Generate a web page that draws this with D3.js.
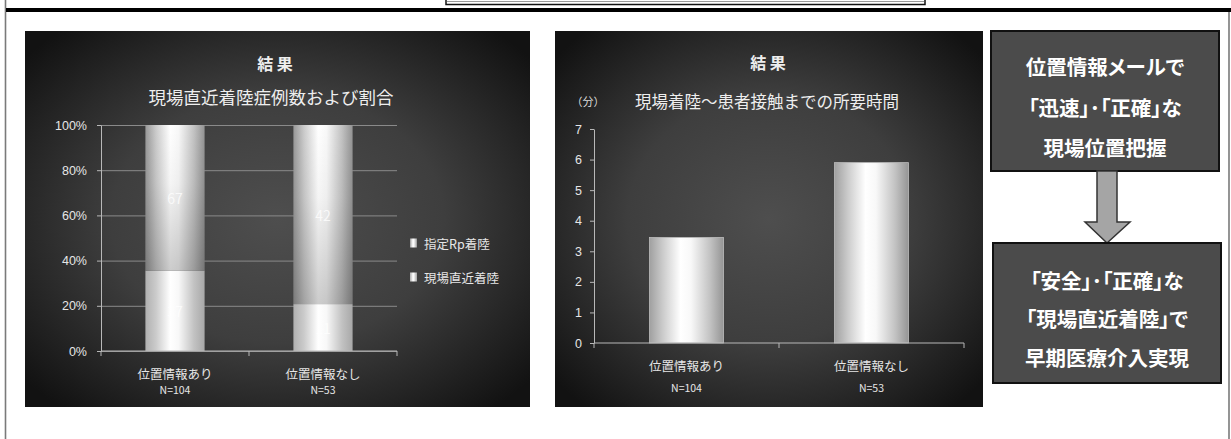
<!DOCTYPE html>
<html lang="ja">
<head>
<meta charset="utf-8">
<script src="https://cdn.jsdelivr.net/npm/d3@7"></script>
<style>
  html, body { margin: 0; padding: 0; background: #fff; }
  svg { display: block; font-family: "Noto Sans CJK JP", "Noto Sans", sans-serif; }
  .flow text { font-feature-settings: "palt"; }
</style>
</head>
<body>
<svg id="slide" width="1231" height="439"></svg>
<script>
// ---- data ----
const categories = ["位置情報あり", "位置情報なし"];
const sampleSizes = ["N=104", "N=53"];
const seriesNames = ["指定Rp着陸", "現場直近着陸"];
const rpLanding = [67, 42];      // 指定Rp着陸 (cases)
const nearLanding = [37, 11];    // 現場直近着陸 (cases)
const pctTicks = [0, 0.2, 0.4, 0.6, 0.8, 1.0];
const contactMinutes = [3.45, 5.9];  // 現場着陸～患者接触 (分)
const minuteTicks = [0, 1, 2, 3, 4, 5, 6, 7];
const flowTop = ["位置情報メールで", "「迅速」･「正確」な", "現場位置把握"];
const flowBottom = ["「安全」･「正確」な", "「現場直近着陸」で", "早期医療介入実現"];

const svg = d3.select("#slide");
const defs = svg.append("defs");

// panel background: dark edges, lighter centre
const bg = defs.append("radialGradient").attr("id", "panelBg")
  .attr("cx", "50%").attr("cy", "50%").attr("r", "66%");
bg.append("stop").attr("offset", "0%").attr("stop-color", "#4e4e4e");
bg.append("stop").attr("offset", "50%").attr("stop-color", "#3e3e3e");
bg.append("stop").attr("offset", "100%").attr("stop-color", "#121212");

// cylindrical shading of the bars
function barGradient(id, edgeL, edgeR) {
  const g = defs.append("linearGradient").attr("id", id)
    .attr("x1", "0%").attr("x2", "100%").attr("y1", "0%").attr("y2", "0%");
  [[0, edgeL], [0.18, "#cbcbcb"], [0.42, "#ffffff"], [0.56, "#f8f8f8"], [0.82, "#c2c2c2"], [1, edgeR]]
    .forEach(([o, c]) => g.append("stop").attr("offset", o).attr("stop-color", c));
}
barGradient("barTop", "#989898", "#939393");
barGradient("barBottom", "#b0b0b0", "#a8a8a8");
barGradient("barPlain", "#a0a0a0", "#959595");
const shade = defs.append("linearGradient").attr("id", "shadeDown")
  .attr("x1", "0%").attr("x2", "0%").attr("y1", "0%").attr("y2", "100%");
shade.append("stop").attr("offset", "0%").attr("stop-color", "#000").attr("stop-opacity", 0);
shade.append("stop").attr("offset", "40%").attr("stop-color", "#000").attr("stop-opacity", 0.04);
shade.append("stop").attr("offset", "100%").attr("stop-color", "#000").attr("stop-opacity", 0.2);

// ---- page frame ----
svg.append("line").attr("x1", 5.5).attr("x2", 5.5).attr("y1", 0).attr("y2", 439)
  .attr("stroke", "#7a7a7a").attr("stroke-width", 1.6);
svg.append("line").attr("x1", 1229).attr("x2", 1229).attr("y1", 10).attr("y2", 439)
  .attr("stroke", "#7a7a7a").attr("stroke-width", 1.6);
svg.append("rect").attr("x", 6).attr("y", 8).attr("width", 1225).attr("height", 4).attr("fill", "#000");
svg.append("rect").attr("x", 446).attr("y", -4).attr("width", 479).attr("height", 8.5)
  .attr("fill", "#fff").attr("stroke", "#111").attr("stroke-width", 1.5);
svg.append("line").attr("x1", 447).attr("x2", 924).attr("y1", 1.5).attr("y2", 1.5)
  .attr("stroke", "#999").attr("stroke-width", 1);

const axisColor = "#b8b8b8";
const textColor = "#e6e6e6";

function styleAxis(g) {
  g.selectAll(".domain").attr("stroke", axisColor).attr("stroke-width", 1);
  g.selectAll(".tick line").attr("stroke", axisColor);
  g.selectAll(".tick text").attr("fill", textColor).attr("font-size", 12.5);
}

// ================= left chart: 100% stacked =================
(function () {
  const panel = { x: 25, y: 31, w: 505, h: 376 };
  const g = svg.append("g");
  g.append("rect").attr("x", panel.x).attr("y", panel.y).attr("width", panel.w).attr("height", panel.h)
    .attr("fill", "url(#panelBg)");

  const x = d3.scaleBand().domain(categories).range([101, 397]).paddingInner(0.6).paddingOuter(0.3);
  const y = d3.scaleLinear().domain([0, 1]).range([351, 125]);

  g.append("text").attr("x", 275).attr("y", 63).attr("text-anchor", "middle")
    .attr("dominant-baseline", "central").attr("fill", "#eee").attr("font-size", 16)
    .attr("font-weight", 700).text("結 果");
  g.append("text").attr("x", 271).attr("y", 96).attr("text-anchor", "middle")
    .attr("dominant-baseline", "central").attr("fill", "#eee").attr("font-size", 17.5)
    .text("現場直近着陸症例数および割合");

  // gridlines
  g.append("g").attr("transform", `translate(${x.range()[0]},0)`)
    .call(d3.axisLeft(y).tickValues(pctTicks).tickSize(-(x.range()[1] - x.range()[0])).tickFormat(""))
    .call(a => a.select(".domain").remove())
    .call(a => a.selectAll(".tick line").attr("stroke", "#8a8a8a").attr("stroke-width", 1));

  // y axis
  const ya = g.append("g").attr("transform", `translate(${x.range()[0]},0)`)
    .call(d3.axisLeft(y).tickValues(pctTicks).tickSize(4).tickSizeOuter(0).tickPadding(10)
      .tickFormat(d3.format(".0%")));
  styleAxis(ya);

  // stacked bars
  const rows = categories.map((c, i) => ({ cat: c, rp: rpLanding[i], near: nearLanding[i] }));
  const stack = d3.stack().keys(["near", "rp"]).offset(d3.stackOffsetExpand);
  const layers = stack(rows);
  const fills = { near: "url(#barBottom)", rp: "url(#barTop)" };

  layers.forEach(layer => {
    const lg = g.append("g");
    lg.selectAll("rect.bar").data(layer).join("rect").attr("class", "bar")
      .attr("x", d => x(d.data.cat)).attr("width", x.bandwidth())
      .attr("y", d => y(d[1])).attr("height", d => y(d[0]) - y(d[1]))
      .attr("fill", fills[layer.key]);
    if (layer.key === "rp") {
      lg.selectAll("rect.shade").data(layer).join("rect").attr("class", "shade")
        .attr("x", d => x(d.data.cat)).attr("width", x.bandwidth())
        .attr("y", d => y(d[1])).attr("height", d => y(d[0]) - y(d[1]))
        .attr("fill", "url(#shadeDown)");
    }
    lg.selectAll("text").data(layer).join("text")
      .attr("x", d => x(d.data.cat) + x.bandwidth() / 2)
      .attr("y", d => y((d[0] + d[1]) / 2))
      .attr("text-anchor", "middle").attr("dominant-baseline", "central")
      .attr("font-size", 14).attr("fill", "#fff").attr("opacity", 0.75)
      .text(d => d.data[layer.key]);
  });

  // x axis with ticks on category boundaries
  const xa = g.append("g").attr("transform", `translate(0,${y(0)})`);
  xa.append("line").attr("x1", x.range()[0]).attr("x2", x.range()[1])
    .attr("stroke", axisColor);
  const bounds = d3.range(categories.length + 1).map(i => x.range()[0] + i * x.step());
  xa.selectAll("line.tk").data(bounds).join("line").attr("class", "tk")
    .attr("x1", d => d).attr("x2", d => d).attr("y1", 0).attr("y2", 5).attr("stroke", axisColor);
  categories.forEach((c, i) => {
    const cx = x(c) + x.bandwidth() / 2;
    g.append("text").attr("x", cx).attr("y", 373).attr("text-anchor", "middle")
      .attr("dominant-baseline", "central").attr("fill", textColor).attr("font-size", 12.5).text(c);
    g.append("text").attr("x", cx).attr("y", 389).attr("text-anchor", "middle")
      .attr("dominant-baseline", "central").attr("fill", textColor).attr("font-size", 10.5).text(sampleSizes[i]);
  });

  // legend
  const legFill = ["url(#barTop)", "url(#barBottom)"];
  seriesNames.forEach((n, i) => {
    const ly = 243 + i * 34;
    g.append("rect").attr("x", 410).attr("y", ly - 4.5).attr("width", 7).attr("height", 9)
      .attr("fill", legFill[i]);
    g.append("text").attr("x", 424).attr("y", ly).attr("dominant-baseline", "central")
      .attr("fill", textColor).attr("font-size", 12.5).text(n);
  });
})();

// ================= right chart: minutes =================
(function () {
  const panel = { x: 555, y: 31, w: 428, h: 376 };
  const g = svg.append("g");
  g.append("rect").attr("x", panel.x).attr("y", panel.y).attr("width", panel.w).attr("height", panel.h)
    .attr("fill", "url(#panelBg)");

  const x = d3.scaleBand().domain(categories).range([594, 964]).paddingInner(0.6).paddingOuter(0.3);
  const y = d3.scaleLinear().domain([0, 7]).range([343, 129]);

  g.append("text").attr("x", 768).attr("y", 62).attr("text-anchor", "middle")
    .attr("dominant-baseline", "central").attr("fill", "#eee").attr("font-size", 16)
    .attr("font-weight", 700).text("結 果");
  g.append("text").attr("x", 588).attr("y", 101).attr("text-anchor", "middle")
    .attr("dominant-baseline", "central").attr("fill", "#ddd").attr("font-size", 11).text("（分）");
  g.append("text").attr("x", 767).attr("y", 101).attr("text-anchor", "middle")
    .attr("dominant-baseline", "central").attr("fill", "#eee").attr("font-size", 16.5)
    .text("現場着陸～患者接触までの所要時間");

  const ya = g.append("g").attr("transform", `translate(${x.range()[0]},0)`)
    .call(d3.axisLeft(y).tickValues(minuteTicks).tickSize(4).tickSizeOuter(0).tickPadding(8)
      .tickFormat(d3.format("d")));
  styleAxis(ya);

  g.selectAll("rect.bar").data(categories).join("rect").attr("class", "bar")
    .attr("x", d => x(d)).attr("width", x.bandwidth())
    .attr("y", (d, i) => y(contactMinutes[i]))
    .attr("height", (d, i) => y(0) - y(contactMinutes[i]))
    .attr("fill", "url(#barPlain)").attr("stroke", "#bdbdbd").attr("stroke-width", 0.8);

  const xa = g.append("g").attr("transform", `translate(0,${y(0)})`);
  xa.append("line").attr("x1", x.range()[0]).attr("x2", x.range()[1]).attr("stroke", axisColor);
  const bounds = d3.range(categories.length + 1).map(i => x.range()[0] + i * x.step());
  xa.selectAll("line.tk").data(bounds).join("line").attr("class", "tk")
    .attr("x1", d => d).attr("x2", d => d).attr("y1", 0).attr("y2", 5).attr("stroke", axisColor);
  categories.forEach((c, i) => {
    const cx = x(c) + x.bandwidth() / 2;
    g.append("text").attr("x", cx).attr("y", 365).attr("text-anchor", "middle")
      .attr("dominant-baseline", "central").attr("fill", textColor).attr("font-size", 12.5).text(c);
    g.append("text").attr("x", cx).attr("y", 387).attr("text-anchor", "middle")
      .attr("dominant-baseline", "central").attr("fill", textColor).attr("font-size", 10.5).text(sampleSizes[i]);
  });
})();

// ================= flow boxes =================
(function () {
  const g = svg.append("g").attr("class", "flow");
  function box(x0, y0, w, h, lines, ys) {
    g.append("rect").attr("x", x0).attr("y", y0).attr("width", w).attr("height", h)
      .attr("fill", "#4b4b4b").attr("stroke", "#111").attr("stroke-width", 2);
    lines.forEach((t, i) => g.append("text").attr("x", x0 + w / 2).attr("y", ys[i])
      .attr("text-anchor", "middle").attr("dominant-baseline", "central")
      .attr("fill", "#fff").attr("font-size", 20.5).attr("font-weight", 700).text(t));
  }
  box(991, 31, 228, 140, flowTop, [66, 107, 147]);
  // arrow
  const arrow = d3.path();
  arrow.moveTo(1097, 171); arrow.lineTo(1117, 171); arrow.lineTo(1117, 222);
  arrow.lineTo(1130, 222); arrow.lineTo(1107, 243); arrow.lineTo(1085, 222);
  arrow.lineTo(1097, 222); arrow.closePath();
  g.append("path").attr("d", arrow.toString()).attr("fill", "#a5a5a5")
    .attr("stroke", "#333").attr("stroke-width", 1.5).attr("stroke-linejoin", "miter");
  box(993, 243, 228, 140, flowBottom, [280, 318, 357]);
})();
</script>
</body>
</html>
